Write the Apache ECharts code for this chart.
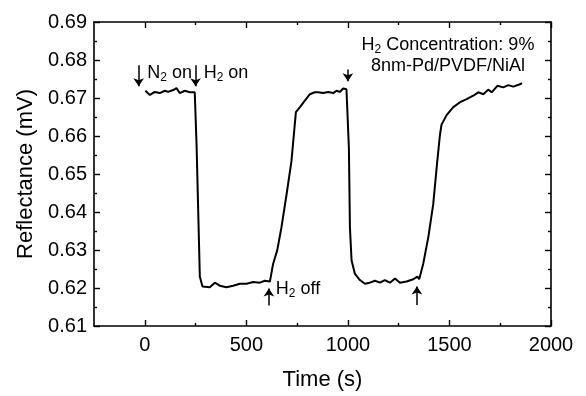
<!DOCTYPE html>
<html>
<head>
<meta charset="utf-8">
<script src="https://cdn.jsdelivr.net/npm/echarts@6/dist/echarts.min.js"></script>
<style>
html,body{margin:0;padding:0;background:#fff;}
#chart{width:586px;height:396px;}
</style>
</head>
<body>
<div id="chart"></div>
<script>
// ---- data ----
const timeS = [3,25,49,74,99,115,140,156,172,197,222,246,
  255,263,271,284,320,345,369,402,435,468,501,534,566,591,616,
  632,652,673,698,722,744,764,788,813,837,854,878,903,928,944,960,977,993,1002,
  1005,1010,1018,1034,1059,1084,1108,1133,1158,1182,1207,1232,1256,1289,1322,1342,1351,
  1371,1396,1420,1440,1453,1461,1486,1519,1552,1585,1617,1642,1667,1691,1708,1736,1765,1790,1814,1847,1857];
const reflectance = [0.6719,0.6708,0.6716,0.6713,0.6719,0.6716,0.6721,0.6726,0.6713,0.6719,0.6715,0.6715,
  0.6576,0.6404,0.6230,0.6204,0.6202,0.6214,0.6206,0.6202,0.6206,0.6211,0.6211,0.6216,0.6214,0.6219,0.6217,
  0.6264,0.6299,0.6360,0.6446,0.6533,0.6663,0.6676,0.6693,0.6710,0.6715,0.6715,0.6713,0.6716,0.6713,0.6719,0.6716,0.6725,0.6723,0.6719,
  0.6567,0.6360,0.6273,0.6238,0.6221,0.6211,0.6214,0.6219,0.6214,0.6221,0.6214,0.6225,0.6214,0.6217,0.6223,0.6230,0.6223,
  0.6264,0.6334,0.6420,0.6533,0.6602,0.6630,0.6655,0.6676,0.6689,0.6697,0.6706,0.6715,0.6710,0.6722,0.6715,0.6732,0.6728,0.6734,0.6730,0.6736,0.6739];
const xMajorTicks = [0,500,1000,1500,2000];
const xMinorTicks = [250,750,1250,1750];
const yMajorTicks = [0.61,0.62,0.63,0.64,0.65,0.66,0.67,0.68,0.69];
const yMinorTicks = [0.615,0.625,0.635,0.645,0.655,0.665,0.675,0.685];
// arrows: [x, yTail, yHead]
const arrowMarks = [[-30,0.6786,0.6731],[250,0.6786,0.6731],[1000,0.6775,0.6744],[611,0.6154,0.6199],[1340,0.6155,0.6204]];
// annotation labels: [x, y, main, sub, rest]
const noteLabels = [[12,0.6766,'N','2',' on'],[290,0.6766,'H','2',' on'],[645,0.6197,'H','2',' off']];
const infoLine1 = ['H','2',' Concentration: 9%'];
const infoLine2 = '8nm-Pd/PVDF/NiAl';

const FONT = '"Liberation Sans", Arial, Helvetica, sans-serif';
const chart = echarts.init(document.getElementById('chart'), null, {renderer:'canvas'});
const seriesData = timeS.map((t,i)=>[t, reflectance[i]]);

const X0 = -250, X1 = 2000, Y0 = 0.61, Y1 = 0.69;
function xAx(pos, ticks, len, line, labels, name){
  return {type:'value', position:pos, min:X0, max:X1, gridIndex:0,
    axisLine:{show:line, onZero:false, lineStyle:{color:'#000', width:1.6}},
    axisTick:{show:true, inside:true, length:len, customValues:ticks, lineStyle:{color:'#000', width:1.4}},
    axisLabel:{show:labels, customValues:ticks, color:'#000', fontSize:20, fontFamily:FONT, margin:9,
      formatter:v=>String(Math.round(v))},
    splitLine:{show:false},
    name:name||'', nameLocation:'middle', nameGap:43,
    nameTextStyle:{color:'#000', fontSize:22, fontFamily:FONT}};
}
function yAx(pos, ticks, len, line, labels, name){
  return {type:'value', position:pos, min:Y0, max:Y1, gridIndex:0,
    axisLine:{show:line, onZero:false, lineStyle:{color:'#000', width:1.6}},
    axisTick:{show:true, inside:true, length:len, customValues:ticks, lineStyle:{color:'#000', width:1.4}},
    axisLabel:{show:labels, customValues:ticks, color:'#000', fontSize:20, fontFamily:FONT, margin:7,
      formatter:v=>v.toFixed(2)},
    splitLine:{show:false},
    name:name||'', nameLocation:'middle', nameGap:51,
    nameTextStyle:{color:'#000', fontSize:22, fontFamily:FONT}};
}

const rich = {
  a:{fontSize:18, fontFamily:FONT, color:'#000'},
  s:{fontSize:12, fontFamily:FONT, color:'#000', padding:[10,0,0,0]}
};

const option = {
  animation:false,
  backgroundColor:'#fff',
  grid:{left:94, right:35, top:22, bottom:67},
  xAxis:[
    xAx('bottom', xMajorTicks, 6, true, true, 'Time (s)'),
    xAx('bottom', xMinorTicks, 3, false, false),
    xAx('top', xMajorTicks, 6, true, false),
    xAx('top', xMinorTicks, 3, false, false)
  ],
  yAxis:[
    yAx('left', yMajorTicks, 6, true, true, 'Reflectance (mV)'),
    yAx('left', yMinorTicks, 3, false, false),
    yAx('right', yMajorTicks, 6, true, false),
    yAx('right', yMinorTicks, 3, false, false)
  ],
  series:[{
    type:'line', data:seriesData, xAxisIndex:0, yAxisIndex:0,
    showSymbol:false, symbol:'none', smooth:false,
    lineStyle:{color:'#000', width:2},
    markLine:{
      silent:true, symbol:['none','arrow'], symbolSize:8, precision:4,
      label:{show:false},
      lineStyle:{color:'#000', width:1.5, type:'solid'},
      data: arrowMarks.map(a=>[{coord:[a[0],a[1]]},{coord:[a[0],a[2]]}])
    },
    markPoint:{
      silent:true,
      data: noteLabels.map(n=>({coord:[n[0],n[1]], symbol:'circle', symbolSize:0,
        label:{show:true, position:'inside', align:'left', verticalAlign:'middle',
          formatter:'{a|'+n[2]+'}{s|'+n[3]+'}{a|'+n[4]+'}', rich:rich}}))
    }
  }],
  graphic:[
    {type:'text', x:448, y:45, style:{text:'{a|'+infoLine1[0]+'}{s|'+infoLine1[1]+'}{a|'+infoLine1[2]+'}',
      rich:rich, align:'center', verticalAlign:'middle'}},
    {type:'text', x:448, y:66, style:{text:infoLine2, font:'18px '+FONT, fill:'#000', align:'center', verticalAlign:'middle'}}
  ]
};
chart.setOption(option);
</script>
</body>
</html>
